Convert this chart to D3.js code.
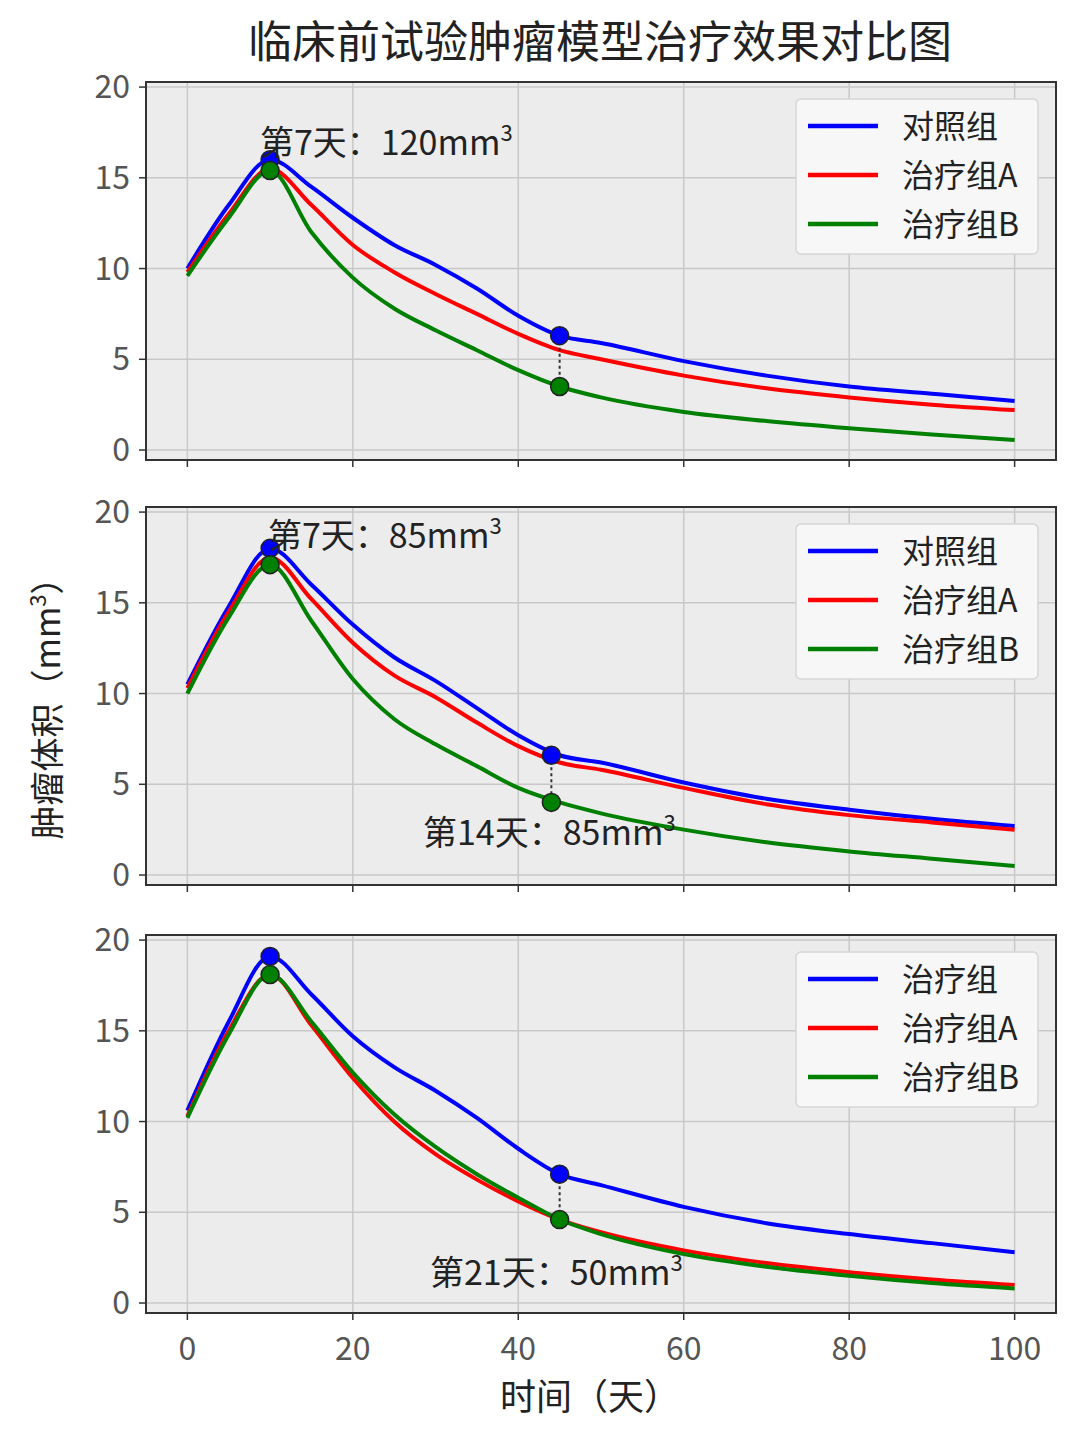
<!DOCTYPE html>
<html><head><meta charset="utf-8">
<script src="https://cdn.jsdelivr.net/npm/d3@7"></script>
<style>body{margin:0;background:#fff}svg{display:block}</style>
</head><body>
<script>
// Data
var days = [0,5,10,15,20,25,30,35,40,45,50,60,70,80,90,100];
var p1_ctrl = [10,13.5,16,14.5,12.8,11.3,10.2,8.9,7.4,6.3,5.9,4.9,4.1,3.5,3.1,2.7];
var p1_a    = [9.8,13,15.5,13.5,11.3,9.8,8.6,7.5,6.4,5.5,5.0,4.1,3.4,2.9,2.5,2.2];
var p1_b    = [9.6,12.8,15.4,12.0,9.5,7.8,6.6,5.5,4.4,3.5,2.9,2.1,1.6,1.2,0.85,0.55];
var p2_ctrl = [10.5,14.8,18,16,13.8,12,10.7,9.2,7.7,6.6,6.2,5.1,4.2,3.6,3.1,2.7];
var p2_a    = [10.3,14.5,17.5,15.2,12.8,11,9.8,8.4,7.1,6.2,5.8,4.8,3.9,3.3,2.9,2.5];
var p2_b    = [10,14.2,17.1,14,10.8,8.6,7.2,6,4.8,4.0,3.4,2.5,1.8,1.3,0.9,0.5];
var p3_ctrl = [10.6,15.5,19.1,17,14.7,13,11.7,10.2,8.5,7.1,6.5,5.3,4.4,3.8,3.3,2.8];
var p3_a    = [10.3,15,18.1,15.3,12.4,10.0,8.2,6.8,5.6,4.6,3.9,2.9,2.2,1.7,1.3,1.0];
var p3_b    = [10.2,14.8,18.1,15.5,12.7,10.4,8.6,7.1,5.8,4.6,3.8,2.7,2.0,1.5,1.1,0.8];
var legend1 = ["对照组","治疗组A","治疗组B"];
var legend3 = ["治疗组","治疗组A","治疗组B"];
var colors = ["#0000ff","#ff0000","#008000"];
var xTicks = [0,20,40,60,80,100];
var yTicks = [0,5,10,15,20];

var panels = [
  {top:82, series:[p1_ctrl,p1_a,p1_b], legend:legend1,
   markers:[[10,16,15.4],[45,6.3,3.5]],
   notes:[{t:"第7天：120mm",x:260,y:155}]},
  {top:507, series:[p2_ctrl,p2_a,p2_b], legend:legend1,
   markers:[[10,18,17.1],[44,6.6,4.0]],
   notes:[{t:"第7天：85mm",x:268,y:548},{t:"第14天：85mm",x:423,y:845}]},
  {top:935, series:[p3_ctrl,p3_a,p3_b], legend:legend3,
   markers:[[10,19.1,18.1],[45,7.1,4.6]],
   notes:[{t:"第21天：50mm",x:430,y:1285}]}
];

var W=1080,H=1440, left=146, right=1056, ph=378;
var font = "'Noto Sans CJK SC','DejaVu Sans',sans-serif";
var svg = d3.select("body").append("svg").attr("width",W).attr("height",H).style("font-family",font);

svg.append("text").attr("x",600).attr("y",58).attr("text-anchor","middle")
  .attr("font-size",44).attr("fill","#222").text("临床前试验肿瘤模型治疗效果对比图");

var x = d3.scaleLinear().domain([-5,105]).range([left,right]);

panels.forEach(function(p, pi){
  var y = d3.scaleLinear().domain([-0.55,20.28]).range([p.top+ph, p.top]);
  var g = svg.append("g");
  g.append("rect").attr("x",left).attr("y",p.top).attr("width",right-left).attr("height",ph).attr("fill","#ececec");
  xTicks.forEach(function(t){
    g.append("line").attr("x1",x(t)).attr("x2",x(t)).attr("y1",p.top).attr("y2",p.top+ph).attr("stroke","#c8c8c8").attr("stroke-width",1.5);
    g.append("line").attr("x1",x(t)).attr("x2",x(t)).attr("y1",p.top+ph).attr("y2",p.top+ph+7).attr("stroke","#333").attr("stroke-width",1.5);
  });
  yTicks.forEach(function(t){
    g.append("line").attr("x1",left).attr("x2",right).attr("y1",y(t)).attr("y2",y(t)).attr("stroke","#c8c8c8").attr("stroke-width",1.5);
    g.append("line").attr("x1",left-7).attr("x2",left).attr("y1",y(t)).attr("y2",y(t)).attr("stroke","#333").attr("stroke-width",1.5);
    g.append("text").attr("x",left-16).attr("y",y(t)+11).attr("text-anchor","end").attr("font-size",32).attr("fill","#555").text(t);
  });
  g.append("rect").attr("x",left).attr("y",p.top).attr("width",right-left).attr("height",ph).attr("fill","none").attr("stroke","#333").attr("stroke-width",2);

  var line = d3.line().x(function(d,i){return x(days[i]);}).y(function(d){return y(d);}).curve(d3.curveMonotoneX);
  p.series.forEach(function(s, si){
    g.append("path").datum(s).attr("d",line).attr("fill","none").attr("stroke",colors[si]).attr("stroke-width",4);
  });
  p.markers.forEach(function(m){
    g.append("line").attr("x1",x(m[0])).attr("x2",x(m[0])).attr("y1",y(m[1])).attr("y2",y(m[2]))
      .attr("stroke","#333").attr("stroke-width",2).attr("stroke-dasharray","3,3");
    g.append("circle").attr("cx",x(m[0])).attr("cy",y(m[1])).attr("r",9).attr("fill","#0000ff").attr("stroke","#222").attr("stroke-width",1.5);
    g.append("circle").attr("cx",x(m[0])).attr("cy",y(m[2])).attr("r",9).attr("fill","#008000").attr("stroke","#222").attr("stroke-width",1.5);
  });
  p.notes.forEach(function(n){
    var t = g.append("text").attr("x",n.x).attr("y",n.y).attr("font-size",34).attr("fill","#222").text(n.t);
    t.append("tspan").attr("font-size",22).attr("dy",-14).text("3");
  });
  // legend
  var ly = p.top+17;
  g.append("rect").attr("x",796).attr("y",ly).attr("width",242).attr("height",155).attr("rx",5)
    .attr("fill","#f7f7f7").attr("stroke","#d6d6d6").attr("stroke-width",1.5);
  p.legend.forEach(function(l, li){
    var yy = ly+27+li*49;
    g.append("line").attr("x1",808).attr("x2",878).attr("y1",yy).attr("y2",yy).attr("stroke",colors[li]).attr("stroke-width",4.5);
    g.append("text").attr("x",902).attr("y",yy+12).attr("font-size",32).attr("fill","#222").text(l);
  });
});

xTicks.forEach(function(t){
  svg.append("text").attr("x",x(t)).attr("y",1360).attr("text-anchor","middle").attr("font-size",32).attr("fill","#555").text(t);
});
svg.append("text").attr("x",590).attr("y",1410).attr("text-anchor","middle").attr("font-size",36).attr("fill","#222").text("时间（天）");
var yl = svg.append("text").attr("transform","translate(60,700) rotate(-90)").attr("text-anchor","middle")
  .attr("font-size",34).attr("fill","#222").text("肿瘤体积（mm");
yl.append("tspan").attr("font-size",22).attr("dy",-14).text("3");
yl.append("tspan").attr("dy",14).text("）");
</script>
</body></html>
